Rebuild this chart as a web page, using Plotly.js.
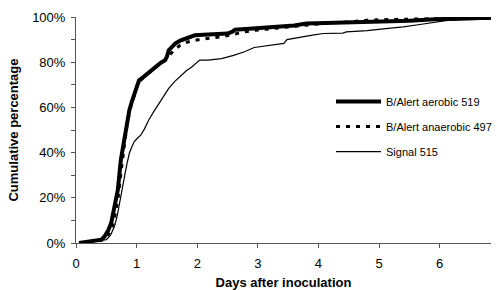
<!DOCTYPE html>
<html>
<head>
<meta charset="utf-8">
<script src="https://cdn.plot.ly/plotly-3.0.1.min.js"></script>
<style>html,body{margin:0;padding:0;background:#fff;}#chart{width:497px;height:290px;}</style>
</head>
<body>
<div id="chart"></div>
<script>
const seriesNames = ["B/Alert aerobic 519", "B/Alert anaerobic 497", "Signal 515"];

const aerobicDays = [0.05,0.15,0.25,0.35,0.42,0.47,0.53,0.58,0.63,0.69,0.74,0.80,0.85,0.88,0.92,0.96,1.00,1.04,1.10,1.15,1.23,1.31,1.40,1.47,1.50,1.53,1.58,1.64,1.72,1.80,1.88,1.96,2.10,2.20,2.35,2.50,2.58,2.62,2.80,3.00,3.20,3.48,3.60,3.80,4.00,4.30,4.60,5.00,5.50,5.92,6.30,6.85];
const aerobicPct  = [0,0.3,0.6,1.0,1.5,2.9,5.5,8.8,14.7,23.5,36.8,47,54,58.8,62.5,66,69.5,72,73.2,74.3,76.2,78,79.8,80.9,82.5,85.3,86.8,88.3,89.6,90.5,91.4,91.9,92.1,92.2,92.4,92.7,93.5,94.4,94.7,95,95.3,95.6,96.2,97.1,97.2,97.3,97.5,97.8,98.3,99,99.4,99.7];

const anaerobicDays = [0.05,0.15,0.25,0.35,0.45,0.50,0.55,0.60,0.65,0.70,0.75,0.80,0.85,0.90,0.96,1.02,1.10,1.20,1.31,1.40,1.47,1.52,1.58,1.64,1.72,1.80,1.96,2.10,2.40,2.60,2.80,2.94,3.20,3.48,3.80,4.10,4.50,4.80,5.20,5.60,6.00,6.40,6.85];
const anaerobicPct  = [0,0.2,0.5,0.8,1.5,2.5,4.5,7.5,13,21,33,45,54,60,65.5,70.5,73,75.5,77.8,79.7,80.8,82.5,84.5,86,87.5,88.6,89.7,90.3,91.2,92.5,93.5,94.1,94.8,95.6,96.5,97.2,97.8,98.6,98.9,99.1,99.3,99.5,99.7];

const signalDays = [0.1,0.2,0.3,0.4,0.5,0.57,0.634,0.68,0.715,0.76,0.80,0.84,0.88,0.92,0.96,1.00,1.07,1.13,1.20,1.28,1.37,1.45,1.53,1.63,1.74,1.82,1.91,1.97,2.04,2.18,2.40,2.60,2.78,2.94,3.10,3.30,3.43,3.48,3.60,3.75,3.90,4.08,4.30,4.40,4.46,4.80,5.11,5.40,5.70,5.92,6.13,6.40,6.85];
const signalPct  = [0,0.3,0.6,1.0,1.5,3.5,7.3,12,17.6,23.5,29.4,35,39.7,42.5,44.8,46,47.8,50.5,54.4,58,61.8,65,68.4,71.5,74.3,76.2,77.9,79.5,80.9,80.9,81.6,83,84.6,86.5,87,87.8,88.3,90,90.6,91.5,92,92.7,92.7,92.9,93.4,94,94.9,95.6,96.8,97.8,98.5,98.8,99];

const xTickVals = [0,1,2,3,4,5,6];
const yTickVals = [0,20,40,60,80,100];
const yTickText = ["0%","20%","40%","60%","80%","100%"];

const font = "Liberation Sans, Arial, sans-serif";

const traces = [
  {x: aerobicDays, y: aerobicPct, name: seriesNames[0], mode: "lines",
   line: {color: "#000", width: 4}, legendgroup: "a"},
  {x: anaerobicDays, y: anaerobicPct, name: seriesNames[1], mode: "lines",
   line: {color: "#000", width: 3, dash: "4px,6px"}, legendgroup: "b"},
  {x: signalDays, y: signalPct, name: seriesNames[2], mode: "lines",
   line: {color: "#000", width: 1.2}, legendgroup: "c"}
];

const layout = {
  width: 497, height: 290,
  margin: {l: 76, r: 0, t: 17, b: 47},
  paper_bgcolor: "#fff", plot_bgcolor: "#fff",
  font: {family: font, color: "#000", size: 13},
  showlegend: true,
  legend: {x: 0.615, y: 0.69, xanchor: "left", yanchor: "top",
           font: {family: font, size: 11, color: "#000"},
           bgcolor: "rgba(0,0,0,0)", tracegroupgap: 6, itemwidth: 45},
  xaxis: {
    range: [0, 6.846], tickvals: xTickVals, ticks: "outside", ticklen: 4,
    tickcolor: "#555", showline: true, linecolor: "#555", linewidth: 1,
    showgrid: false, zeroline: false, tickfont: {size: 13}, ticklabelstandoff: 4,
    title: {text: "<b>Days after inoculation</b>", font: {size: 13}, standoff: 11}
  },
  yaxis: {
    range: [0, 100], tickvals: yTickVals, ticktext: yTickText, ticks: "outside",
    ticklen: 4, tickcolor: "#555", showline: true, linecolor: "#555", linewidth: 1,
    showgrid: false, zeroline: false, tickfont: {size: 13}, ticklabelstandoff: 3,
    minor: {tickvals: [10,30,50,70,90], ticks: "outside", ticklen: 4, tickcolor: "#555"},
    title: {text: "<b>Cumulative percentage</b>", font: {size: 13}, standoff: 10}
  }
};

Plotly.newPlot("chart", traces, layout, {staticPlot: true, displayModeBar: false});
</script>
</body>
</html>
